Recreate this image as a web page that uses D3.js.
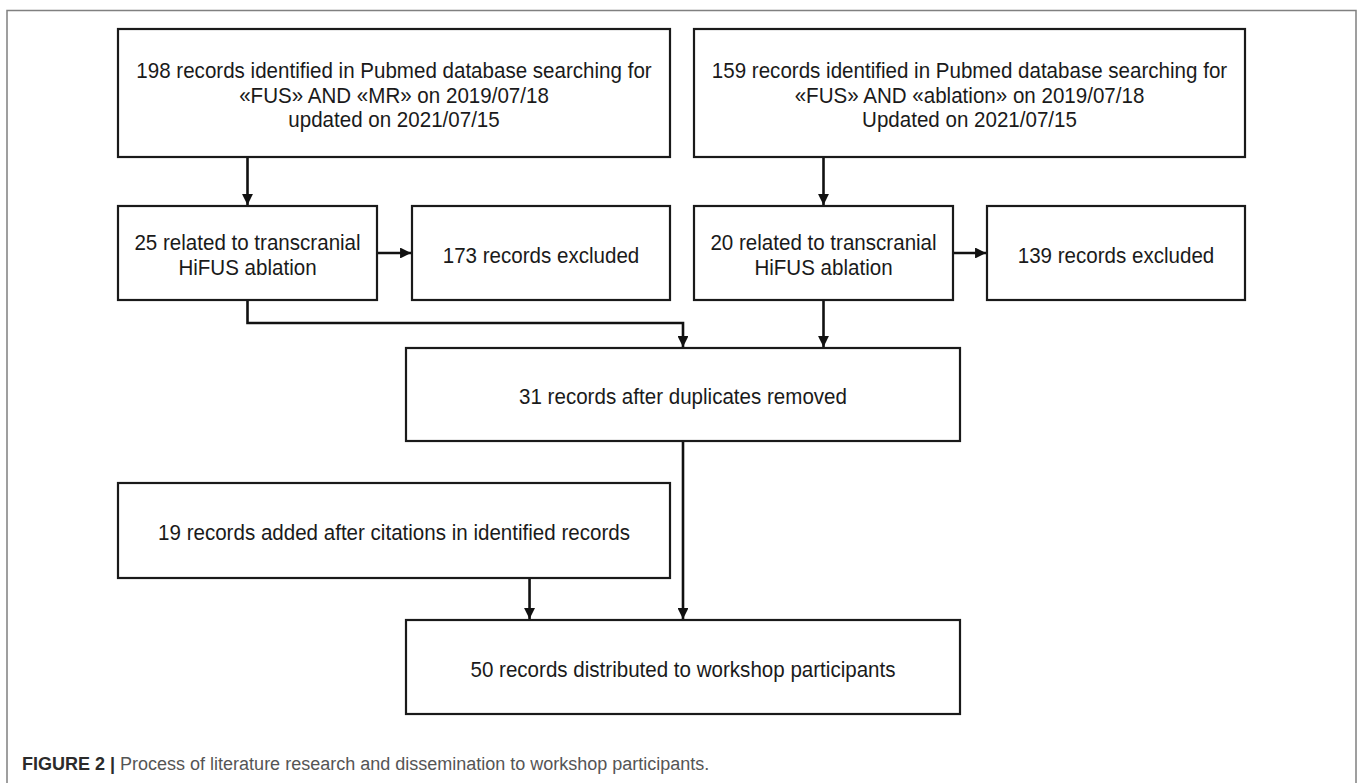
<!DOCTYPE html>
<html>
<head>
<meta charset="utf-8">
<script src="https://cdn.jsdelivr.net/npm/d3@7"></script>
<style>
  body { margin: 0; background: #fff; }
  svg { display: block; }
  .box rect { fill: #fff; stroke: #1a1a1a; stroke-width: 2.2; }
  .box text { font-family: "Liberation Sans", Arial, sans-serif; font-size: 22px; fill: #1a1a1a; }
  .link { fill: none; stroke: #111; stroke-width: 2.6; }
</style>
</head>
<body>
<svg width="1358" height="783"></svg>
<script>
// box ids and their labels (one entry per line)
const boxIds = ["src1", "src2", "rel1", "exc1", "rel2", "exc2", "dedup", "added", "final"];
const boxLabels = [
  ["198 records identified in Pubmed database searching for", "«FUS» AND «MR» on 2019/07/18", "updated on 2021/07/15"],
  ["159 records identified in Pubmed database searching for", "«FUS» AND «ablation» on 2019/07/18", "Updated on 2021/07/15"],
  ["25 related to transcranial", "HiFUS ablation"],
  ["173 records excluded"],
  ["20 related to transcranial", "HiFUS ablation"],
  ["139 records excluded"],
  ["31 records after duplicates removed"],
  ["19 records added after citations in identified records"],
  ["50 records distributed to workshop participants"]
];

// connections between boxes
const links = [
  ["src1", "rel1"],
  ["rel1", "exc1"],
  ["src2", "rel2"],
  ["rel2", "exc2"],
  ["rel1", "dedup"],
  ["rel2", "dedup"],
  ["dedup", "final"],
  ["added", "final"]
];

const captionBold = "FIGURE 2 |";
const captionText = " Process of literature research and dissemination to workshop participants.";

// layout: left/right/top/bottom of each box
const layout = {
  src1:  {x0: 118, x1: 670,  y0: 29,  y1: 157},
  src2:  {x0: 694, x1: 1245, y0: 29,  y1: 157},
  rel1:  {x0: 118, x1: 377,  y0: 206, y1: 300},
  exc1:  {x0: 412, x1: 670,  y0: 206, y1: 300},
  rel2:  {x0: 694, x1: 953,  y0: 206, y1: 300},
  exc2:  {x0: 987, x1: 1245, y0: 206, y1: 300},
  dedup: {x0: 406, x1: 960,  y0: 348, y1: 441},
  added: {x0: 118, x1: 670,  y0: 483, y1: 578},
  final: {x0: 406, x1: 960,  y0: 620, y1: 714}
};

const svg = d3.select("svg");

// outer frame (open at the bottom)
svg.append("path")
    .attr("d", "M7,790V10.5H1356V790")
    .attr("fill", "none")
    .attr("stroke", "#808080")
    .attr("stroke-width", 1.5);

// arrowhead marker
svg.append("defs").append("marker")
    .attr("id", "arrow")
    .attr("viewBox", "0 0 10 10")
    .attr("refX", 10)
    .attr("refY", 5)
    .attr("markerWidth", 4.2)
    .attr("markerHeight", 4.2)
    .attr("markerUnits", "strokeWidth")
    .attr("orient", "auto")
  .append("path")
    .attr("d", "M0,0L10,5L0,10Z")
    .attr("fill", "#111");

const boxes = boxIds.map((id, i) => ({id, lines: boxLabels[i], ...layout[id]}));
const byId = new Map(boxes.map(d => [d.id, d]));

// route a connector between two boxes
const route = (a, b) => {
  const ay = (a.y0 + a.y1) / 2;
  if (a.y0 === b.y0) {
    // side by side
    return [[a.x1, ay], [b.x0 - 1, ay]];
  }
  const bx = (b.x0 + b.x1) / 2;
  if (a.id === "added") {
    const tx = b.x0 + (b.x1 - b.x0) * 0.223;
    return [[tx, a.y1], [tx, b.y0 - 1]];
  }
  const lo = Math.max(a.x0, b.x0), hi = Math.min(a.x1, b.x1);
  if (hi - lo > 300 || (b.x1 - b.x0) < 300) {
    // straight down through the shared middle
    const tx = b.x1 - b.x0 < 300 ? bx : (a.x0 + a.x1) / 2;
    return [[tx, a.y1], [tx, b.y0 - 1]];
  }
  const ax = (a.x0 + a.x1) / 2;
  if (ax > b.x0 && ax < b.x1) {
    return [[ax, a.y1], [ax, b.y0 - 1]];
  }
  // elbow: down, across, down
  const my = a.y1 + 23;
  return [[ax, a.y1], [ax, my], [bx, my], [bx, b.y0 - 1]];
};

const line = d3.line();

svg.append("g")
  .selectAll("path")
  .data(links)
  .join("path")
    .attr("class", "link")
    .attr("d", ([s, t]) => line(route(byId.get(s), byId.get(t))))
    .attr("marker-end", "url(#arrow)");

// boxes
const g = svg.append("g")
  .selectAll("g")
  .data(boxes)
  .join("g")
    .attr("class", "box");

g.append("rect")
    .attr("x", d => d.x0)
    .attr("y", d => d.y0)
    .attr("width", d => d.x1 - d.x0)
    .attr("height", d => d.y1 - d.y0);

// labels, slightly narrowed to match the condensed face of the original
const lineH = 24.6;
g.append("text")
    .attr("text-anchor", "middle")
    .attr("transform", d => `translate(${(d.x0 + d.x1) / 2},${(d.y0 + d.y1) / 2 + 2}) scale(0.935,1)`)
  .selectAll("tspan")
  .data(d => d.lines.map((t, i) => ({t, i, n: d.lines.length})))
  .join("tspan")
    .attr("x", 0)
    .attr("y", o => (o.i - (o.n - 1) / 2) * lineH)
    .attr("dy", "0.35em")
    .text(o => o.t);

// caption
const cap = svg.append("text")
    .attr("x", 22)
    .attr("y", 770)
    .attr("font-family", "'Liberation Sans', Arial, sans-serif")
    .attr("font-size", 18);
cap.append("tspan")
    .attr("font-weight", "bold")
    .attr("fill", "#2b2b2b")
    .text(captionBold);
cap.append("tspan")
    .attr("fill", "#555")
    .text(captionText);
</script>
</body>
</html>
